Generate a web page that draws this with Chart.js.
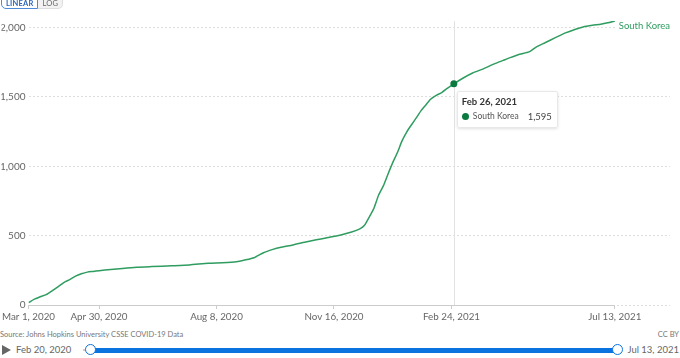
<!DOCTYPE html>
<html lang="en">
<head>
  <meta charset="UTF-8" />
  <title>South Korea - cumulative COVID-19 deaths</title>
  <script src="https://cdn.jsdelivr.net/npm/chart.js"></script>
  <style>
    body {
      margin: 0;
      width: 680px;
      height: 358px;
      overflow: hidden;
      background: #fff;
      font-family: Lato, "Noto Sans", sans-serif;
      position: relative;
    }
    #wrap {
      position: absolute;
      left: 0;
      top: 0;
      width: 680px;
      height: 328px;
    }
    .toggle {
      position: absolute;
      top: -7px;
      left: 1px;
      display: flex;
      font-size: 7.5px;
      font-weight: bold;
      letter-spacing: 0.2px;
    }
    .toggle div {
      height: 14px;
      line-height: 20px;
      padding: 0 4px;
      border: 1px solid #ddd;
      color: #666;
      background: #f2f2f2;
    }
    .toggle .on {
      color: #2d64b8;
      background: #fff;
      border-color: #4d8ad8;
      border-radius: 0 0 0 5px;
    }
    .toggle .off {
      border-left: none;
      border-radius: 0 0 5px 0;
      font-weight: normal;
    }
    #tip {
      position: absolute;
      display: none;
      background: rgba(255, 255, 255, 0.97);
      border: 1px solid #e8e8e8;
      box-shadow: 0 1px 3px rgba(0, 0, 0, 0.12);
      border-radius: 2px;
      padding: 4px 5px 5px 4px;
      color: #333;
    }
    #tip .t {
      font-size: 9.5px;
      font-weight: bold;
      margin-bottom: 4px;
    }
    #tip .row {
      display: flex;
      align-items: center;
      font-size: 8.5px;
      color: #555;
    }
    #tip .dot {
      width: 7px;
      height: 7px;
      border-radius: 50%;
      margin-right: 4px;
    }
    #tip .v {
      margin-left: 9px;
      font-size: 9.5px;
      color: #444;
    }
    .foot {
      position: absolute;
      top: 330px;
      left: 0;
      width: 679px;
      font-size: 7.5px;
      color: #777;
    }
    .foot span { position: absolute; right: 0; }
    .timeline {
      position: absolute;
      top: 342px;
      left: 0;
      width: 680px;
      height: 16px;
      font-size: 9.5px;
      color: #666;
    }
    .play {
      position: absolute;
      left: 2px;
      top: 3px;
      width: 0;
      height: 0;
      border-top: 5px solid transparent;
      border-bottom: 5px solid transparent;
      border-left: 9px solid #666;
    }
    .tl-start { position: absolute; left: 16px; top: 2px; }
    .tl-end { position: absolute; right: 1px; top: 2px; }
    .track {
      position: absolute;
      left: 83px;
      top: 7px;
      width: 537px;
      height: 2px;
      background: #ccc;
    }
    .range {
      position: absolute;
      left: 91px;
      top: 5.5px;
      width: 527px;
      height: 5px;
      background: #0a73e0;
    }
    .knob {
      position: absolute;
      top: 2px;
      width: 9px;
      height: 9px;
      border: 1.5px solid #0a73e0;
      border-radius: 50%;
      background: #fff;
    }
  </style>
</head>
<body>
  <div id="wrap"><canvas id="chart"></canvas></div>
  <div class="toggle"><div class="on">LINEAR</div><div class="off">LOG</div></div>
  <div id="tip"></div>
  <div class="foot">Source: Johns Hopkins University CSSE COVID-19 Data<span>CC BY</span></div>
  <div class="timeline">
    <div class="play"></div>
    <div class="tl-start">Feb 20, 2020</div>
    <div class="track"></div>
    <div class="range"></div>
    <div class="knob" style="left:85px"></div>
    <div class="knob" style="left:612px"></div>
    <div class="tl-end">Jul 13, 2021</div>
  </div>

  <script>
    // days counted from Mar 1, 2020
    const days = [0, 5, 10, 15, 20, 25, 30, 35, 40, 45, 50, 55, 60, 70, 80, 92, 105, 122, 137, 153,
      165, 177, 184, 192, 200, 208, 214, 225, 235, 245, 255, 265, 275, 282, 286, 290, 294, 298, 302,
      306, 310, 314, 318, 322, 326, 330, 334, 338, 342, 346, 352, 357, 362, 370, 378, 386, 396, 404,
      410, 418, 426, 432, 440, 448, 457, 465, 472, 480, 487, 493, 499];
    const deaths = [17, 42, 60, 75, 102, 131, 162, 183, 208, 225, 237, 242, 247, 256, 264, 272, 277, 283, 289, 301,
      305, 312, 324, 341, 377, 401, 415, 433, 452, 470, 486, 503, 526, 549, 575, 634, 698, 793, 859,
      945, 1027, 1100, 1185, 1249, 1300, 1349, 1400, 1441, 1482, 1507, 1534, 1566, 1595, 1637, 1673, 1699, 1737, 1764,
      1784, 1808, 1825, 1860, 1893, 1926, 1962, 1987, 2005, 2017, 2025, 2035, 2048];
    const country = "South Korea";
    const xTickDays = [0, 60, 160, 260, 360, 499];
    const xTickLabels = ["Mar 1, 2020", "Apr 30, 2020", "Aug 8, 2020", "Nov 16, 2020", "Feb 24, 2021", "Jul 13, 2021"];
    const yTicks = [0, 500, 1000, 1500, 2000];
    const hoverDay = 362;
    const hoverLabel = "Feb 26, 2021";

    const lineColor = "#2f9c60";
    const dotColor = "#0a7a3f";
    const hoverIdx = days.indexOf(hoverDay);

    // baseline, hover rule and end label
    const extras = {
      id: "extras",
      beforeDatasetsDraw(chart) {
        const { ctx, chartArea, scales } = chart;
        const x = scales.x;
        ctx.save();
        ctx.strokeStyle = "#ccc";
        ctx.lineWidth = 1;
        ctx.beginPath();
        ctx.moveTo(x.getPixelForValue(0), chartArea.bottom + 0.5);
        ctx.lineTo(x.getPixelForValue(days[days.length - 1]), chartArea.bottom + 0.5);
        ctx.stroke();
        const hx = Math.round(x.getPixelForValue(hoverDay)) + 0.5;
        ctx.strokeStyle = "#e2e2e2";
        ctx.beginPath();
        ctx.moveTo(hx, chartArea.top);
        ctx.lineTo(hx, chartArea.bottom);
        ctx.stroke();
        ctx.restore();
      },
      afterDraw(chart) {
        const { ctx, scales } = chart;
        const last = days.length - 1;
        const lx = scales.x.getPixelForValue(days[last]) + 2;
        const ly = scales.y.getPixelForValue(deaths[last]) + 5;
        ctx.save();
        ctx.font = "9.5px Lato";
        const w = ctx.measureText(country).width;
        ctx.fillStyle = "#fff";
        ctx.fillRect(lx, ly - 6, w + 6, 12);
        ctx.fillStyle = lineColor;
        ctx.textBaseline = "middle";
        ctx.fillText(country, lx + 2, ly);
        ctx.restore();
      }
    };

    Chart.Tooltip.positioners.belowRight = function (items) {
      if (!items.length) return false;
      return { x: items[0].element.x, y: items[0].element.y };
    };

    function externalTip(context) {
      const tip = document.getElementById("tip");
      const t = context.tooltip;
      if (t.opacity === 0 || !t.dataPoints || !t.dataPoints.length) {
        tip.style.display = "none";
        return;
      }
      const p = t.dataPoints[0];
      tip.innerHTML = '<div class="t">' + hoverLabel + '</div>' +
        '<div class="row"><div class="dot" style="background:' + dotColor + '"></div>' +
        country + '<span class="v">' + p.raw.y.toLocaleString("en-US") + '</span></div>';
      tip.style.display = "block";
      tip.style.left = (t.caretX + 3) + "px";
      tip.style.top = (t.caretY + 7) + "px";
    }

    const ctx = document.getElementById("chart").getContext("2d");
    const chart = new Chart(ctx, {
      type: "line",
      data: {
        datasets: [{
          label: country,
          data: days.map((d, i) => ({ x: d, y: deaths[i] })),
          borderColor: lineColor,
          borderWidth: 1.5,
          tension: 0.2,
          pointRadius: (c) => (c.dataIndex === hoverIdx ? 3.5 : 0),
          pointBackgroundColor: dotColor,
          pointBorderWidth: 0,
          pointHoverRadius: 3.5
        }]
      },
      options: {
        responsive: true,
        maintainAspectRatio: false,
        animation: false,
        events: [],
        layout: { padding: { top: 21, right: 10, left: 0, bottom: 0 } },
        plugins: {
          legend: { display: false },
          tooltip: { enabled: false, position: "belowRight", external: externalTip }
        },
        scales: {
          x: {
            type: "linear",
            min: 0,
            max: 546,
            afterBuildTicks: (s) => { s.ticks = xTickDays.map((v) => ({ value: v })); },
            afterFit: (s) => { s.height = 23; },
            ticks: {
              autoSkip: false,
              maxRotation: 0,
              padding: 2,
              color: "#666",
              font: { family: "Lato", size: 9.8 },
              callback: (v) => xTickLabels[xTickDays.indexOf(v)]
            },
            grid: { drawOnChartArea: false, drawTicks: true, tickLength: 4, color: "#ccc" },
            border: { display: false }
          },
          y: {
            min: 0,
            max: 2048,
            afterBuildTicks: (s) => { s.ticks = yTicks.map((v) => ({ value: v })); },
            afterFit: (s) => { s.width = 27; },
            ticks: {
              padding: 3,
              color: "#666",
              font: { family: "Lato", size: 10 },
              callback: (v) => v.toLocaleString("en-US")
            },
            grid: { color: "#dedede", drawTicks: false },
            border: { display: false, dash: [2, 2] }
          }
        }
      },
      plugins: [extras]
    });

    chart.tooltip.setActiveElements([{ datasetIndex: 0, index: hoverIdx }], { x: 0, y: 0 });
    chart.update();
  </script>
</body>
</html>
